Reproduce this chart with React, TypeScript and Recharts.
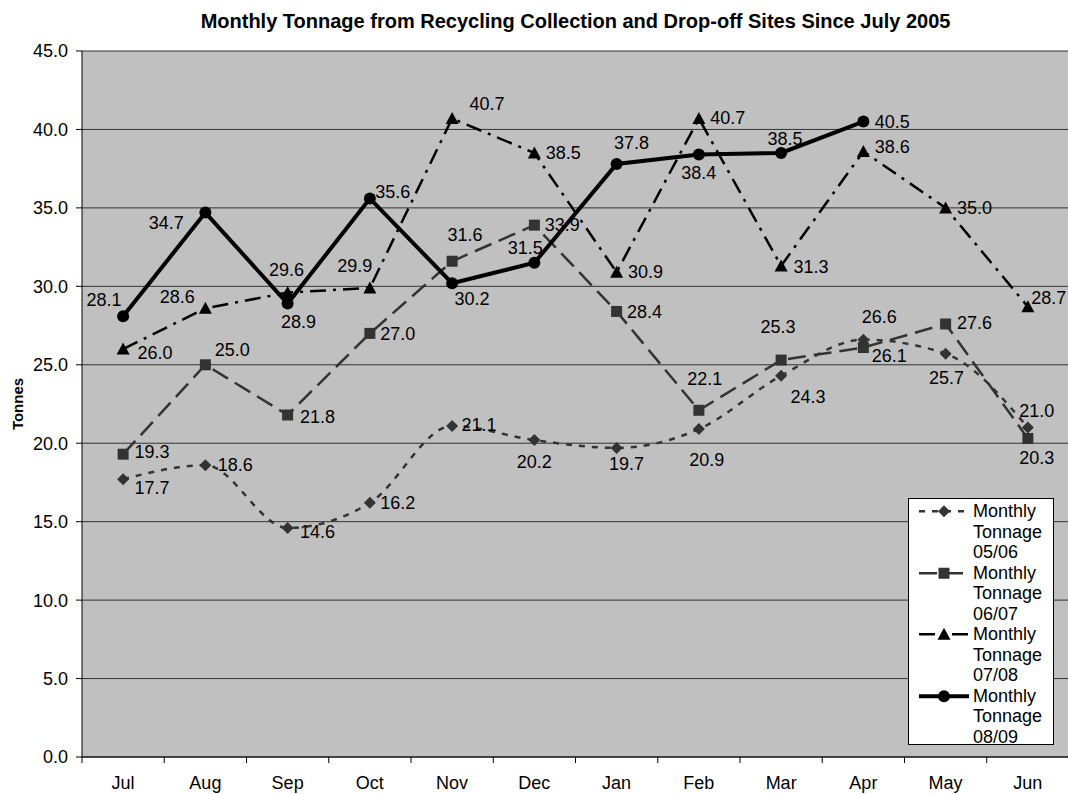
import React from "react";
import { CartesianGrid, Label, LabelList, Legend, Line, LineChart, XAxis, YAxis } from "recharts";

const months = ["Jul", "Aug", "Sep", "Oct", "Nov", "Dec", "Jan", "Feb", "Mar", "Apr", "May", "Jun"];
const tonnage0506 = [17.7, 18.6, 14.6, 16.2, 21.1, 20.2, 19.7, 20.9, 24.3, 26.6, 25.7, 21.0];
const tonnage0607 = [19.3, 25.0, 21.8, 27.0, 31.6, 33.9, 28.4, 22.1, 25.3, 26.1, 27.6, 20.3];
const tonnage0708 = [26.0, 28.6, 29.6, 29.9, 40.7, 38.5, 30.9, 40.7, 31.3, 38.6, 35.0, 28.7];
const tonnage0809 = [28.1, 34.7, 28.9, 35.6, 30.2, 31.5, 37.8, 38.4, 38.5, 40.5, null, null];
const yTicks = [0, 5, 10, 15, 20, 25, 30, 35, 40, 45];

// label nudges (dx, dy) from each point, as placed in the original
const off0506 = [[29, 9], [30, 0], [30, 4], [28, 0], [27, -1], [0, 22], [10, 16], [8, 31], [27, 21], [16, -23], [1, 24], [9, -17]];
const off0607 = [[29, -2], [27, -15], [30, 2], [28, 1], [13, -26], [28, 0], [28, 1], [6, -31], [-3, -33], [26, 8], [29, -1], [9, 19]];
const off0708 = [[32, 4], [-28, -11], [-1, -23], [-15, -22], [35, -14], [29, 0], [29, 0], [29, 0], [30, 1], [29, -4], [29, 0], [21, -9]];
const off0809 = [[-19, -16], [-39, 10], [11, 18], [23, -6], [20, 16], [-9, -15], [15, -21], [0, 18], [4, -14], [29, 0], [0, 0], [0, 0]];

const rows = months.map((m, i) => ({
  month: m,
  t0506: tonnage0506[i],
  t0607: tonnage0607[i],
  t0708: tonnage0708[i],
  t0809: tonnage0809[i],
}));

const CHART_W = 1069;
const CHART_H = 794;
const PLOT_LEFT = 82;
const PLOT_TOP = 51;
const X_AXIS_H = 37;
const PLOT_BOTTOM = CHART_H - X_AXIS_H;
const BAND = (CHART_W - PLOT_LEFT) / months.length;
const FONT = '"Liberation Sans", Arial, Helvetica, sans-serif';

type Shape = "diamond" | "square" | "triangle" | "circle";

function marker(shape: Shape, cx: number, cy: number, color: string, key?: any) {
  if (shape === "diamond") {
    return <polygon key={key} points={`${cx},${cy - 6} ${cx + 6},${cy} ${cx},${cy + 6} ${cx - 6},${cy}`} fill={color} />;
  }
  if (shape === "square") {
    return <rect key={key} x={cx - 5.5} y={cy - 5.5} width={11} height={11} fill={color} />;
  }
  if (shape === "triangle") {
    return <polygon key={key} points={`${cx},${cy - 6.5} ${cx + 6.5},${cy + 5.5} ${cx - 6.5},${cy + 5.5}`} fill={color} />;
  }
  return <circle key={key} cx={cx} cy={cy} r={6} fill={color} />;
}

const series = [
  { key: "t0506", name: "Monthly Tonnage 05/06", color: "#333333", width: 2.5, dash: "6 7", shape: "diamond" as Shape, type: "monotone", offsets: off0506 },
  { key: "t0607", name: "Monthly Tonnage 06/07", color: "#333333", width: 2.5, dash: "18 8", shape: "square" as Shape, type: "linear", offsets: off0607 },
  { key: "t0708", name: "Monthly Tonnage 07/08", color: "#000000", width: 2.5, dash: "16 7 3 7", shape: "triangle" as Shape, type: "linear", offsets: off0708 },
  { key: "t0809", name: "Monthly Tonnage 08/09", color: "#000000", width: 4, dash: undefined, shape: "circle" as Shape, type: "linear", offsets: off0809 },
];

function makeDot(shape: Shape, color: string) {
  return (p: any) => {
    if (p.cx == null || p.cy == null || p.value == null) return <g key={p.index} />;
    return marker(shape, p.cx, p.cy, color, p.index);
  };
}

function makeLabel(offsets: number[][]) {
  return (p: any) => {
    const value = p.value;
    if (value == null || value === "") return null;
    const x = p.x ?? p.viewBox?.x;
    const y = p.y ?? p.viewBox?.y;
    if (x == null || y == null) return null;
    const [dx, dy] = offsets[p.index] || [28, 0];
    return (
      <text x={x + dx} y={y + dy} textAnchor="middle" dominantBaseline="central" fontSize={18} fill="#000" fontFamily={FONT}>
        {Number(value).toFixed(1)}
      </text>
    );
  };
}

const XTick = (props: any) => {
  const { x, payload } = props;
  const bx = x - BAND / 2;
  return (
    <g>
      <line x1={bx} y1={PLOT_BOTTOM} x2={bx} y2={PLOT_BOTTOM + 6} stroke="#000" />
      <text x={x} y={PLOT_BOTTOM + 32} textAnchor="middle" fontSize={18} fill="#000" fontFamily={FONT}>
        {payload.value}
      </text>
    </g>
  );
};

const TonnesLabel = (props: any) => {
  const vb = props.viewBox || {};
  const cy = (vb.y ?? PLOT_TOP) + (vb.height ?? PLOT_BOTTOM - PLOT_TOP) / 2;
  const cx = 17;
  return (
    <text x={cx} y={cy} transform={`rotate(-90 ${cx} ${cy})`} textAnchor="middle" dominantBaseline="central" fontSize={15} fontWeight="bold" fill="#000" fontFamily={FONT}>
      Tonnes
    </text>
  );
};

const LegendBox = (props: any) => {
  const payload = props.payload || [];
  return (
    <div style={{ width: 146, height: 247, boxSizing: "border-box", border: "1px solid #000", background: "#fff", padding: "2px 0 0 9px", fontFamily: FONT, fontSize: 18, lineHeight: "20.5px", color: "#000" }}>
      {payload.map((entry: any) => {
        const s = series.find((it) => it.key === entry.dataKey);
        if (!s) return null;
        return (
          <div key={s.key} style={{ display: "flex", alignItems: "flex-start" }}>
            <svg width={52} height={20.5} style={{ flex: "none" }}>
              <line x1={1} y1={10.25} x2={51} y2={10.25} stroke={s.color} strokeWidth={s.width} strokeDasharray={s.dash} />
              {marker(s.shape, 26, 10.25, s.color)}
            </svg>
            <div style={{ marginLeft: 3, width: 78 }}>{entry.value}</div>
          </div>
        );
      })}
    </div>
  );
};

export default function App() {
  return (
    <div style={{ position: "absolute", left: 0, top: 0, width: 1068, height: 794, overflow: "hidden", background: "#fff", fontFamily: FONT }}>
      <div style={{ position: "absolute", left: PLOT_LEFT, top: 8, width: CHART_W - PLOT_LEFT, textAlign: "center", fontWeight: "bold", fontSize: 20, lineHeight: "26px", color: "#000", zIndex: 2 }}>
        Monthly Tonnage from Recycling Collection and Drop-off Sites Since July 2005
      </div>
      <LineChart width={CHART_W} height={CHART_H} data={rows} margin={{ top: PLOT_TOP, right: 0, bottom: 0, left: 0 }}>
        <CartesianGrid vertical={false} stroke="#333" fill="#c0c0c0" fillOpacity={1} />
        <XAxis
          dataKey="month"
          height={X_AXIS_H}
          interval={0}
          padding={{ left: BAND / 2, right: BAND / 2 }}
          tickLine={false}
          axisLine={{ stroke: "#000" }}
          tick={<XTick />}
        />
        <YAxis
          width={PLOT_LEFT}
          domain={[0, 45]}
          ticks={yTicks}
          interval={0}
          tickFormatter={(v: number) => v.toFixed(1)}
          tick={{ fontSize: 18, fill: "#000", fontFamily: FONT }}
          tickSize={6}
          tickMargin={8}
          axisLine={{ stroke: "#000" }}
          tickLine={{ stroke: "#000" }}
        >
          <Label content={<TonnesLabel />} />
        </YAxis>
        <Legend layout="horizontal" verticalAlign="middle" align="center" content={<LegendBox />} wrapperStyle={{ left: 908, top: 498, width: 146, height: 247 }} />
        {series.map((s) => (
          <Line
            key={s.key}
            dataKey={s.key}
            name={s.name}
            type={s.type as any}
            stroke={s.color}
            strokeWidth={s.width}
            strokeDasharray={s.dash}
            dot={makeDot(s.shape, s.color)}
            activeDot={false}
            connectNulls={false}
            isAnimationActive={false}
          >
            <LabelList dataKey={s.key} content={makeLabel(s.offsets)} />
          </Line>
        ))}
      </LineChart>
    </div>
  );
}
